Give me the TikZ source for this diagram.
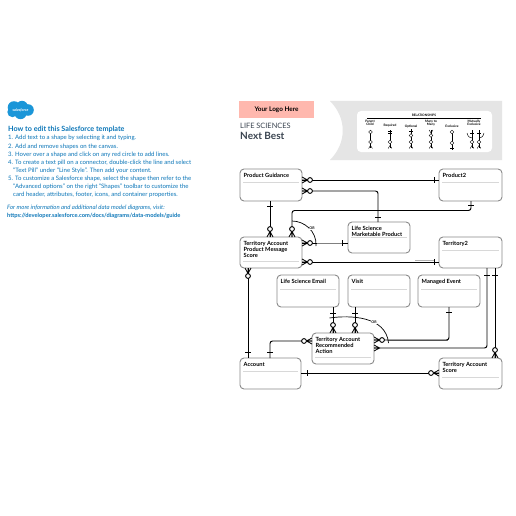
\documentclass[tikz,border=0pt]{standalone}
\usepackage{fontspec}
\setmainfont{Lato}
\definecolor{sfblue}{HTML}{0B76B8}
\definecolor{sfcloud}{HTML}{1B96D8}
\definecolor{boxedge}{HTML}{8A8A8A}
\definecolor{sepline}{HTML}{D8D8D8}
\definecolor{panel}{HTML}{E5E5E5}
\definecolor{logopink}{HTML}{FFB8AE}
\definecolor{darkhead}{HTML}{3A4450}
\tikzset{
  entity/.style={draw=boxedge,line width=0.9pt,fill=white,rounded corners=4pt,inner sep=0,outer sep=0},
  enttitle/.style={anchor=north west,inner sep=0,align=left,font=\bfseries\fontsize{5.7}{5.8}\selectfont,text=black},
  info/.style={anchor=west,inner sep=0,font=\fontsize{6.05}{7}\selectfont,text=sfblue},
  conn/.style={draw=black,line width=0.95pt,rounded corners=2.5pt},
  tint/.style={draw=gray,line width=1.1pt},
  orarc/.style={draw=black,line width=0.7pt},
  ortext/.style={inner sep=0.6pt,fill=white,font=\bfseries\fontsize{3.6}{4}\selectfont},
  lgtxt/.style={inner sep=0,align=center,font=\bfseries\fontsize{3.2}{3.6}\selectfont},
  lgline/.style={draw=black,line width=0.45pt},
  crowcircle/.pic={
    \draw[black,line width=0.8pt] (0,-3) -- (5.6,0) -- (0,3) (0,0) -- (5.6,0);
    \draw[black,line width=0.9pt,fill=white] (8,0) circle (2.4);
  },
  crowonly/.pic={
    \draw[black,line width=0.8pt] (0,-3) -- (5.5,0) -- (0,3) (0,0) -- (5.5,0);
  },
  onebar/.pic={
    \draw[black,line width=0.9pt] (0,-2.6) -- (0,2.6);
  },
  lgcirc/.pic={\draw[black,line width=0.4pt,fill=white] (0,0) circle (1.9);},
  lgcrow/.pic={\draw[black,line width=0.4pt] (-1.9,0) -- (0,-3) -- (1.9,0);},
  lgfoot/.pic={\draw[black,line width=0.4pt] (-1.9,0) -- (0,3) -- (1.9,0);},
  lgbar/.pic={\draw[black,line width=0.4pt] (-1.9,0) -- (1.9,0);},
}
% name, left, top, right, bottom, separator y, title
\newcommand{\entbox}[7]{%
  \node[entity,minimum width=#4pt-#2pt,minimum height=#5pt-#3pt] (#1) at ({(#2+#4)/2},{(#3+#5)/2}) {};
  \node[enttitle] (#1title) at (#2+3.5,#3+4.3) {#7};
  \draw[sepline,line width=0.6pt] (#2+3,#6) -- (#4-3,#6);
}
\begin{document}
\begin{tikzpicture}[x=1pt,y=-1pt]
\useasboundingbox (0,0) rectangle (516,516);
\fill[white] (0,0) rectangle (516,516);

% Salesforce logo
\fill[sfcloud] (14,107.5) circle (6.3) (22,106.6) circle (5.8) (28,110) circle (5.8) (20.5,113) circle (6.2) (12.5,112) circle (5.2);
\node[inner sep=0,text=white,font=\itshape\bfseries\fontsize{3.8}{4}\selectfont] (sflogo) at (20.5,110) {salesforce};

% Instructions
\node[info,font=\bfseries\fontsize{7.2}{8}\selectfont] (howto) at (8,129) {How to edit this Salesforce template};
\node[info] (l1) at (8,138) {1. Add text to a shape by selecting it and typing.};
\node[info] (l2) at (8,146.3) {2. Add and remove shapes on the canvas.};
\node[info] (l3) at (8,154.5) {3. Hover over a shape and click on any red circle to add lines.};
\node[info] (l4) at (8,163) {4. To create a text pill on a connector, double-click the line and select};
\node[info] (l5) at (13,171) {“Text Pill” under “Line Style”. Then add your content.};
\node[info] (l6) at (8,179) {5. To customize a Salesforce shape, select the shape then refer to the};
\node[info] (l7) at (13,187) {“Advanced options” on the right “Shapes” toolbar to customize the};
\node[info] (l8) at (13,195) {card header, attributes, footer, icons, and container properties.};
\node[info,font=\itshape\fontsize{6}{7}\selectfont] (l9) at (7,208) {For more information and additional data model diagrams, visit:};
\node[info,font=\bfseries\fontsize{5.75}{7}\selectfont] (l10) at (7,216) {https://developer.salesforce.com/docs/diagrams/data-models/guide};

% Header
\node[fill=logopink,inner sep=0,minimum width=75pt,minimum height=17pt,font=\bfseries\fontsize{6.4}{7}\selectfont] (logo) at (276.5,109.5) {Your Logo Here};
\node[anchor=west,inner sep=0,text=darkhead,font=\fontsize{7.4}{8}\selectfont] (life) at (240,126) {LIFE SCIENCES};
\node[anchor=west,inner sep=0,text=darkhead,font=\bfseries\fontsize{10}{11}\selectfont] (nextbest) at (240,135.5) {Next Best};

% Legend panel
\fill[panel] (330,101) .. controls (347,118) and (347,143) .. (330,160) -- (502,160) -- (502,101) -- cycle;
\node[fill=white,rounded corners=4pt,inner sep=0,minimum width=135pt,minimum height=41pt] (legend) at (424.5,131.5) {};
\node[lgtxt] (lgtitle) at (424,115) {RELATIONSHIPS};
\draw[black,line width=0.7pt] (367,118) -- (481,118);
\node[lgtxt] at (370,123) {Parent\\Child};
\node[lgtxt] at (390,126) {Required};
\node[lgtxt] at (411,126.5) {Optional};
\node[lgtxt] at (431,123) {Many to\\Many};
\node[lgtxt] at (452,126.5) {Exclusive};
\node[lgtxt] at (474,123) {Mutually\\Exclusive};
% Parent/child
\draw[lgline] (370.5,130) -- (370.5,148);
\pic at (370.5,132) {lgcirc}; \pic at (370.5,142) {lgcirc}; \pic at (370.5,148.5) {lgcrow};
% Required
\draw[lgline] (390,130) -- (390,148);
\pic at (390,131.5) {lgbar}; \pic at (390,133.5) {lgbar}; \pic at (390,142) {lgcirc}; \pic at (390,148.5) {lgcrow};
% Optional
\draw[lgline] (411,129) -- (411,148);
\pic at (411,131) {lgbar}; \pic at (411,135.5) {lgcirc}; \pic at (411,142) {lgcirc}; \pic at (411,148.5) {lgcrow};
% Many to many
\draw[lgline] (431,130) -- (431,148);
\pic at (431,130) {lgfoot}; \pic at (431,135.5) {lgcirc}; \pic at (431,142) {lgcirc}; \pic at (431,148.5) {lgcrow};
% Exclusive
\draw[lgline] (452,131) -- (452,150);
\pic at (452,132) {lgcirc}; \pic at (452,143) {lgcirc}; \pic at (452,148) {lgbar};
% Mutually exclusive
\draw[lgline] (472,130) -- (472,148) (479,130) -- (479,148);
\pic at (472,133) {lgbar}; \pic at (479,133) {lgbar};
\draw[lgline] (467,133) .. controls (468,137) and (470,138) .. (472,138);
\draw[lgline] (484,133) .. controls (483,137) and (481,138) .. (479,138);
\pic at (472,142) {lgcirc}; \pic at (479,142) {lgcirc}; \pic at (472,148.5) {lgcrow}; \pic at (479,148.5) {lgcrow};

% Entities
\entbox{pg}{240}{169}{302}{201}{182.5}{Product Guidance}
\entbox{ptwo}{439}{169}{502}{201}{182.5}{Product2}
\entbox{lsmp}{348}{222}{410}{253}{237.5}{Life Science\\Marketable Product}
\entbox{terr}{439}{237}{502}{268}{250}{Territory2}
\entbox{tapms}{240}{237}{302}{268}{261.5}{Territory Account\\Product Message\\Score}
\entbox{email}{277}{275}{339}{307}{289}{Life Science Email}
\entbox{visit}{348}{275}{410}{307}{289}{Visit}
\entbox{mevent}{418}{275}{480}{307}{289}{Managed Event}
\entbox{tara}{312}{333}{374}{364}{357}{Territory Account\\Recommended\\Action}
\entbox{acct}{240}{358}{301}{389}{371}{Account}
\entbox{tas}{439}{358}{502}{389}{377}{Territory Account\\Score}

% Connectors
\draw[conn] (pg.east |- 0,180) -- (ptwo.west |- 0,180);
\draw[conn] (pg.east |- 0,191) -- (378,191) -- (lsmp.north -| 378,0);
\draw[conn] (ptwo.south -| 471,0) -- (471,210.5) -- (292,210.5) -- (tapms.north -| 292,0);
\draw[conn] (pg.south -| 270,0) -- (tapms.north -| 270,0);
\draw[conn] (tapms.east |- 0,243) -- (lsmp.west |- 0,243);
\draw[tint] (317,243.6) -- (342,243.6);
\draw[conn] (tapms.east |- 0,262) -- (terr.west |- 0,262);
\draw[tint,gray!60] (415,260.8) -- (434,260.8);
\draw[conn] (tapms.south -| 248,0) -- (acct.north -| 248,0);
\draw[conn] (tara.west |- 0,341) -- (270,341) -- (acct.north -| 270,0);
\draw[conn] (email.south -| 333,0) -- (tara.north -| 333,0);
\draw[conn] (visit.south -| 355,0) -- (tara.north -| 355,0);
\draw[tint] (388,340.7) -- (448,340.7);
\draw[conn] (mevent.south -| 449,0) -- (449,340) -- (tara.east |- 0,340);
\draw[conn] (tara.east |- 0,348) -- (487,348) -- (terr.south -| 487,0);
\draw[conn] (tas.north -| 495,0) -- (terr.south -| 495,0);
\draw[conn] (acct.east |- 0,373) -- (tas.west |- 0,373);

% OR arcs
\draw[orarc] (292,221) .. controls (304,221) and (317,231) .. (316,246);
\node[ortext] (or1) at (312,228) {OR};
\draw[orarc] (329.5,318) .. controls (350,315) and (386,316) .. (388.5,343);
\node[ortext] (or2) at (374,322) {OR};

% Ends
\pic[rotate=0] at (pg.east |- 0,180) {crowcircle};
\pic at (434,180) {onebar};
\pic at (pg.east |- 0,191) {crowcircle};
\pic[rotate=90] at (378,217) {onebar};
\pic[rotate=90] at (378,210.5) {onebar};
\pic[rotate=90] at (471,205.5) {onebar};
\pic[rotate=90] at (tapms.north -| 292,0) {crowcircle};
\pic[rotate=90] at (270,206) {onebar};
\pic[rotate=90] at (tapms.north -| 270,0) {crowcircle};
\pic at (tapms.east |- 0,243) {crowcircle};
\pic at (342,243) {onebar};
\pic at (tapms.east |- 0,262) {crowcircle};
\pic at (434,262) {onebar};
\pic[rotate=-90] at (tapms.south -| 248,0) {crowcircle};
\pic[rotate=90] at (248,352) {onebar};
\pic[rotate=180] at (tara.west |- 0,341) {crowcircle};
\pic[rotate=90] at (270,352) {onebar};
\pic[rotate=90] at (333,313) {onebar};
\pic[rotate=90] at (tara.north -| 333,0) {crowcircle};
\pic[rotate=90] at (355,313) {onebar};
\pic[rotate=90] at (tara.north -| 355,0) {crowcircle};
\pic[rotate=90] at (449,312) {onebar};
\pic at (tara.east |- 0,340) {crowcircle};
\pic at (tara.east |- 0,348) {crowonly};
\pic[rotate=90] at (487,275) {onebar};
\pic[rotate=90] at (495,275) {onebar};
\pic[rotate=90] at (tas.north -| 495,0) {crowcircle};
\pic at (307,373) {onebar};
\pic[rotate=180] at (tas.west |- 0,373) {crowcircle};
\end{tikzpicture}
\end{document}
